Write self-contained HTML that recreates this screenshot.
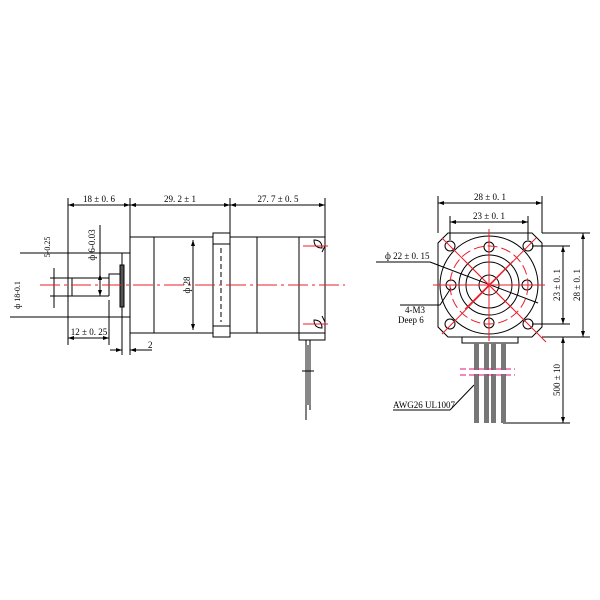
<!DOCTYPE html><html><head><style>body{margin:0;background:#fff}svg{display:block}</style></head><body>
<svg width="600" height="600" viewBox="0 0 600 600" xmlns="http://www.w3.org/2000/svg" font-family="Liberation Serif, serif" font-size="9">
<defs>
<marker id="a" markerWidth="6" markerHeight="4" refX="6" refY="2" orient="auto-start-reverse" markerUnits="userSpaceOnUse"><path d="M0 0 L6 2 L0 4 Z" fill="#000"/></marker>
</defs>
<g stroke="#000" fill="none" stroke-width="1">
<line x1="68" y1="198" x2="68" y2="345"/><line x1="130" y1="198" x2="130" y2="237"/><line x1="230" y1="198" x2="230" y2="233"/><line x1="325" y1="198" x2="325" y2="237"/>
<line x1="68" y1="205" x2="130" y2="205" marker-start="url(#a)" marker-end="url(#a)"/><line x1="130" y1="205" x2="230" y2="205" marker-start="url(#a)" marker-end="url(#a)"/><line x1="230" y1="205" x2="325" y2="205" marker-start="url(#a)" marker-end="url(#a)"/>
<rect x="130" y="237" width="195" height="96"/>
<line x1="154" y1="237" x2="154" y2="333"/><line x1="257" y1="237" x2="257" y2="333"/>
<rect x="213" y="233" width="17" height="104" fill="#fff"/>
<line x1="213" y1="244" x2="230" y2="244"/><line x1="213" y1="326" x2="230" y2="326"/>
<path d="M221 248 V322" stroke-dasharray="5,3"/>
<path d="M299 237 V340 H325 V333"/>
<path d="M314 240 q8 0 8 8 q-8 0 -8 -8 Z M314 320 q8 0 8 8 q-8 0 -8 -8Z"/>
<line x1="322" y1="252" x2="325" y2="246"/><line x1="322" y1="316" x2="325" y2="322"/>
<line x1="193" y1="240" x2="193" y2="330" marker-start="url(#a)" marker-end="url(#a)"/>
<rect x="122" y="253" width="8" height="64"/>
<rect x="120" y="265" width="4" height="42" fill="#555"/>
<path d="M109 296 H68 V278 H109 V274 H120"/><line x1="109" y1="296" x2="109" y2="274"/>
<line x1="72" y1="278" x2="72" y2="296"/>
<line x1="100" y1="274" x2="100" y2="296" marker-start="url(#a)" marker-end="url(#a)"/>
<line x1="100" y1="225" x2="100" y2="274"/>
<line x1="50" y1="278" x2="68" y2="278"/><line x1="50" y1="296" x2="68" y2="296"/><line x1="54" y1="268" x2="54" y2="308"/>
<line x1="10" y1="317" x2="122" y2="317"/><line x1="20" y1="253" x2="122" y2="253"/>
<line x1="68" y1="338" x2="109" y2="338" marker-start="url(#a)" marker-end="url(#a)"/><line x1="109" y1="300" x2="109" y2="345"/>
<line x1="110" y1="350" x2="122" y2="350" marker-end="url(#a)"/><line x1="130" y1="350" x2="152" y2="350" marker-start="url(#a)"/><line x1="122" y1="317" x2="122" y2="355"/><line x1="130" y1="333" x2="130" y2="355"/>
<path d="M306 340 V420 M310 340 V410"/>
<rect x="305" y="345" width="6" height="60" fill="#888" stroke="none"/>
<line x1="302" y1="371" x2="314" y2="371"/>
<path d="M448 233 H532 L542 243 V327 L532 337 H448 L438 327 V243 Z"/>
<circle cx="489" cy="285" r="49"/><circle cx="489" cy="285" r="30"/><circle cx="489" cy="285" r="23"/><circle cx="489" cy="285" r="10"/>
<circle cx="489" cy="247" r="5"/><circle cx="489" cy="323" r="5"/><circle cx="451" cy="285" r="5"/><circle cx="527" cy="285" r="5"/>
<circle cx="450" cy="246" r="5"/><circle cx="528" cy="246" r="5"/><circle cx="450" cy="324" r="5"/><circle cx="528" cy="324" r="5"/>
<rect x="462" y="337" width="56" height="6"/>
<line x1="438" y1="196" x2="438" y2="233"/><line x1="542" y1="196" x2="542" y2="233"/><line x1="438" y1="203" x2="542" y2="203" marker-start="url(#a)" marker-end="url(#a)"/>
<line x1="450" y1="216" x2="450" y2="240"/><line x1="528" y1="216" x2="528" y2="240"/><line x1="450" y1="222" x2="528" y2="222" marker-start="url(#a)" marker-end="url(#a)"/>
<line x1="542" y1="233" x2="590" y2="233"/><line x1="542" y1="337" x2="590" y2="337"/><line x1="583" y1="233" x2="583" y2="337" marker-start="url(#a)" marker-end="url(#a)"/>
<line x1="532" y1="246" x2="570" y2="246"/><line x1="532" y1="324" x2="570" y2="324"/><line x1="563" y1="246" x2="563" y2="324" marker-start="url(#a)" marker-end="url(#a)"/>
<line x1="563" y1="337" x2="563" y2="423" marker-start="url(#a)" marker-end="url(#a)"/><line x1="503" y1="423" x2="570" y2="423"/>
<line x1="376" y1="262" x2="430" y2="262"/><line x1="430" y1="262" x2="538" y2="303"/>
<line x1="400" y1="305" x2="440" y2="305"/><line x1="440" y1="305" x2="451" y2="288"/>
<line x1="393" y1="410" x2="450" y2="410"/><line x1="450" y1="410" x2="474" y2="385"/>
</g>
<g fill="#777">
<rect x="474" y="343" width="5" height="80"/><rect x="484" y="343" width="5" height="80"/><rect x="491" y="343" width="5" height="80"/><rect x="501" y="343" width="5" height="80"/>
</g>
<g stroke="#fff" stroke-width="4"><line x1="470" y1="372" x2="510" y2="372"/></g>
<g stroke="#e0147a" stroke-width="1" stroke-dasharray="6,3"><line x1="460" y1="369" x2="515" y2="369"/><line x1="460" y1="375" x2="515" y2="375"/></g>
<g stroke="#e8202a" stroke-width="1" fill="none">
<line x1="40" y1="285" x2="345" y2="285" stroke-dasharray="20,4,3,4"/>
<line x1="303" y1="246" x2="328" y2="246"/><line x1="303" y1="324" x2="328" y2="324"/>
<line x1="433" y1="285" x2="545" y2="285"/><line x1="489" y1="229" x2="489" y2="341"/>
<circle cx="489" cy="285" r="39" stroke-dasharray="10,4"/>
<line x1="465" y1="261" x2="513" y2="309"/><line x1="513" y1="261" x2="465" y2="309"/>
<line x1="442" y1="238" x2="546" y2="342"/><line x1="536" y1="238" x2="442" y2="334"/>
</g>
<g fill="#000">
<text x="99" y="202" text-anchor="middle">18 ± 0. 6</text>
<text x="180" y="202" text-anchor="middle">29. 2 ± 1</text>
<text x="278" y="202" text-anchor="middle">27. 7 ± 0. 5</text>
<text x="89" y="335" text-anchor="middle">12 ± 0. 25</text>
<text x="148" y="348">2</text>
<text transform="translate(190,285) rotate(-90)" text-anchor="middle">ф 28</text>
<text transform="translate(95,245) rotate(-90)" text-anchor="middle">ф 6-0.03</text>
<text transform="translate(50,247) rotate(-90)" text-anchor="middle" font-size="8">5-0.25</text>
<text transform="translate(20,295) rotate(-90)" text-anchor="middle" font-size="8">ф 18-0.1</text>
<text x="490" y="200" text-anchor="middle">28 ± 0. 1</text>
<text x="489" y="219" text-anchor="middle">23 ± 0. 1</text>
<text x="385" y="259">ф 22 ± 0. 15</text>
<text x="405" y="313">4-M3</text>
<text x="398" y="323">Deep 6</text>
<text x="393" y="408">AWG26 UL1007</text>
<text transform="translate(560,285) rotate(-90)" text-anchor="middle">23 ± 0. 1</text>
<text transform="translate(580,285) rotate(-90)" text-anchor="middle">28 ± 0. 1</text>
<text transform="translate(560,380) rotate(-90)" text-anchor="middle">500 ± 10</text>
</g>
</svg></body></html>
